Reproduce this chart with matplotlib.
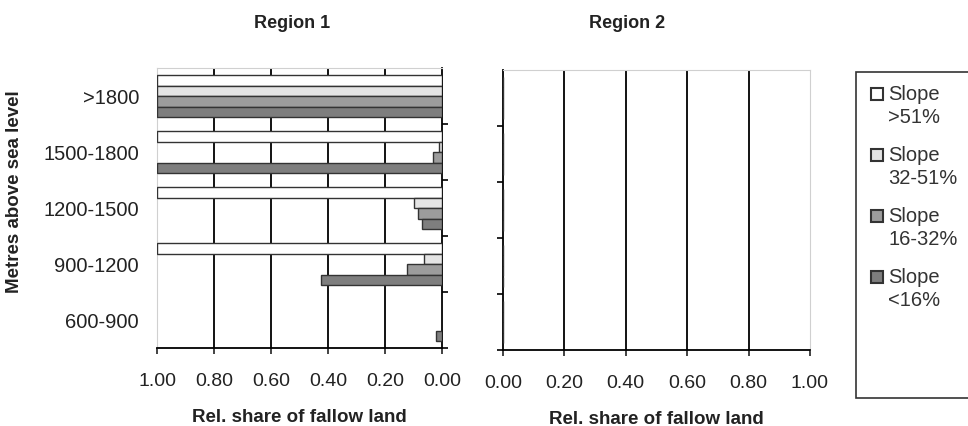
import matplotlib
matplotlib.use("Agg")
import matplotlib.pyplot as plt
from matplotlib.patches import Rectangle
import numpy as np

plt.rcParams['font.family'] = ['Liberation Sans', 'DejaVu Sans']

# data, bottom category first
altitudes = ['600-900', '900-1200', '1200-1500', '1500-1800', '>1800']
slope_labels = ['Slope\n>51%', 'Slope\n32-51%', 'Slope\n16-32%', 'Slope\n<16%']
region1_gt51 = [0.0, 1.0, 1.0, 1.0, 1.0]
region1_32_51 = [0.0, 0.063, 0.10, 0.01, 1.0]
region1_16_32 = [0.0, 0.124, 0.085, 0.033, 1.0]
region1_lt16 = [0.022, 0.426, 0.07, 1.0, 1.0]
region2_gt51 = [0.0, 0.0, 0.0, 0.0, 0.0]
region2_32_51 = [0.0, 0.0, 0.0, 0.0, 0.0]
region2_16_32 = [0.0, 0.0, 0.0, 0.0, 0.0]
region2_lt16 = [0.0, 0.0, 0.0, 0.0, 0.0]
x_ticks = [0.0, 0.2, 0.4, 0.6, 0.8, 1.0]

colors = ['#ffffff', '#e4e4e4', '#9c9c9c', '#7e7e7e']
edge = '#333333'
bar_h = 0.1875
offsets = [1.5 * bar_h, 0.5 * bar_h, -0.5 * bar_h, -1.5 * bar_h]

fig = plt.figure(figsize=(9.68, 4.26), dpi=100)
ax1 = fig.add_axes([157 / 968, 1 - 348 / 426, 285 / 968, 280 / 426])
ax2 = fig.add_axes([503 / 968, 1 - 350 / 426, 307 / 968, 280 / 426])

y = np.arange(len(altitudes))


def setup_axis(ax, series, y_side):
    for s, vals in enumerate(series):
        ax.barh(y + offsets[s], vals, height=bar_h, color=colors[s],
                edgecolor=edge, linewidth=1.0, zorder=3)
    for g in [0.2, 0.4, 0.6, 0.8]:
        ax.axvline(g, color='black', lw=1.3, zorder=1)
    ax.set_ylim(-0.5, len(altitudes) - 0.5)
    ax.set_xticks(x_ticks)
    ax.set_xticklabels(['%.2f' % t for t in x_ticks])
    ax.tick_params(axis='x', direction='out', length=4, width=1.2,
                   labelsize=14, pad=14, colors='#222222')
    ax.set_yticks(np.arange(-0.5, len(altitudes) - 1, 1.0), minor=True)
    ax.set_xlabel('Rel. share of fallow land', fontsize=13.5,
                  fontweight='bold', color='#222222', labelpad=13.5)
    for side in ['top', 'left', 'right', 'bottom']:
        ax.spines[side].set_color('#d0d0d0')
        ax.spines[side].set_linewidth(0.8)
    ax.spines['bottom'].set_color('black')
    ax.spines['bottom'].set_linewidth(1.3)
    ax.spines[y_side].set_color('black')
    ax.spines[y_side].set_linewidth(1.3)


setup_axis(ax1, [region1_gt51, region1_32_51, region1_16_32, region1_lt16],
           'right')
ax1.set_xlim(1.0, 0.0)
ax1.set_yticks(y)
ax1.set_yticklabels(altitudes)
ax1.tick_params(axis='y', which='major', length=0, labelsize=14.5, pad=13,
                colors='#222222')
ax1.tick_params(axis='y', which='minor', left=False, right=True,
                direction='out', length=4, width=1.2)
ax1.set_ylabel('Metres above sea level', fontsize=13.5, fontweight='bold',
               color='#222222')
ax1.yaxis.set_label_coords(-0.47, 0.557)

setup_axis(ax2, [region2_gt51, region2_32_51, region2_16_32, region2_lt16],
           'left')
ax2.set_xlim(0.0, 1.0)
ax2.set_yticks([])
ax2.set_yticks(np.arange(-0.5, len(altitudes) - 1, 1.0), minor=True)
ax2.tick_params(axis='y', which='minor', left=True, direction='out',
                length=4, width=1.2)

fig.text(292 / 968, 1 - 23 / 426, 'Region 1', ha='center', va='center',
         fontsize=13, fontweight='bold', color='#222222')
fig.text(627 / 968, 1 - 23 / 426, 'Region 2', ha='center', va='center',
         fontsize=13, fontweight='bold', color='#222222')

# legend box (runs off the right edge like the original)
fig.patches.append(Rectangle((856 / 968, 1 - 398 / 426), 130 / 968,
                             326 / 426, transform=fig.transFigure,
                             facecolor='white', edgecolor='#333333',
                             lw=1.2, zorder=0))
for i, lab in enumerate(slope_labels):
    top = 88 + 61 * i
    fig.patches.append(Rectangle((871 / 968, 1 - (top + 12) / 426),
                                 12 / 968, 12 / 426,
                                 transform=fig.transFigure,
                                 facecolor=colors[i], edgecolor=edge,
                                 lw=1.5, zorder=2))
    fig.text(888 / 968, 1 - (top - 3) / 426, lab, ha='left', va='top',
             fontsize=14.5, color='#333333', linespacing=1.25)

fig.savefig('out.png', dpi=100, facecolor='white')
